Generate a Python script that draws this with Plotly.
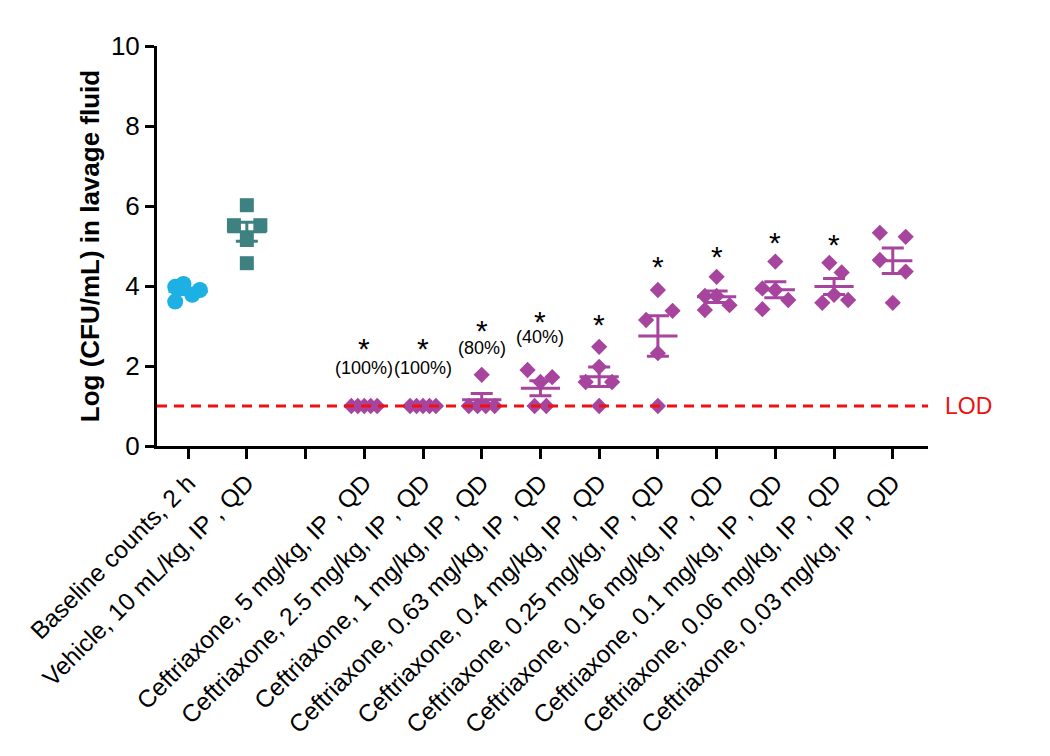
import numpy as np
import plotly.graph_objects as go

# ---- data ----
groups = [
    "Baseline counts, 2 h",
    "Vehicle, 10 mL/kg, IP , QD",
    "",
    "Ceftriaxone, 5 mg/kg, IP , QD",
    "Ceftriaxone, 2.5 mg/kg, IP , QD",
    "Ceftriaxone, 1 mg/kg, IP , QD",
    "Ceftriaxone, 0.63 mg/kg, IP , QD",
    "Ceftriaxone, 0.4 mg/kg, IP , QD",
    "Ceftriaxone, 0.25 mg/kg, IP , QD",
    "Ceftriaxone, 0.16 mg/kg, IP , QD",
    "Ceftriaxone, 0.1 mg/kg, IP , QD",
    "Ceftriaxone, 0.06 mg/kg, IP , QD",
    "Ceftriaxone, 0.03 mg/kg, IP , QD",
]

baseline = [3.98, 4.05, 3.78, 3.90, 3.61]
vehicle = [6.02, 5.52, 5.52, 5.15, 4.57]
ceftriaxone = {
    "5": [1.0, 1.0, 1.0, 1.0, 1.0],
    "2.5": [1.0, 1.0, 1.0, 1.0, 1.0],
    "1": [1.0, 1.0, 1.78, 1.0, 1.0],
    "0.63": [1.9, 1.72, 1.6, 1.0, 1.0],
    "0.4": [2.48, 1.98, 1.6, 1.6, 1.0],
    "0.25": [3.9, 3.38, 3.15, 2.32, 1.0],
    "0.16": [4.23, 3.75, 3.75, 3.52, 3.4],
    "0.1": [4.61, 3.94, 3.9, 3.65, 3.42],
    "0.06": [4.58, 4.34, 3.78, 3.65, 3.58],
    "0.03": [5.33, 5.23, 4.65, 4.36, 3.58],
}

LOD = 1.0
pct_text = ["(100%)", "(100%)", "(80%)", "(40%)"]

# label placement (not data)
star_y = [2.43, 2.43, 2.88, 3.11, 3.03, 4.5, 4.75, 5.08, 5.03]
pct_y = [1.95, 1.95, 2.46, 2.72]

# horizontal scatter of points inside each column
baseline_dx = [-0.22, -0.08, 0.07, 0.2, -0.22]
vehicle_dx = [0, -0.22, 0.23, 0, 0]
cef_dx = {
    "5": [-0.22, -0.11, 0, 0.11, 0.22],
    "2.5": [-0.22, -0.11, 0, 0.11, 0.22],
    "1": [-0.22, -0.07, 0, 0.07, 0.22],
    "0.63": [-0.22, 0.2, 0, -0.1, 0.1],
    "0.4": [0, 0, -0.23, 0.22, 0],
    "0.25": [0, 0.25, -0.2, 0, 0],
    "0.16": [0, -0.2, 0, 0.22, -0.2],
    "0.1": [0, -0.22, 0, 0.22, -0.22],
    "0.06": [-0.08, 0.13, 0, 0.24, -0.2],
    "0.03": [-0.22, 0.22, -0.22, 0.22, 0],
}

CYAN = "#1CB0E4"
TEAL = "#3E8181"
PURPLE = "#A6449E"
RED = "#EE1111"
FONT = "Arial, Liberation Sans, sans-serif"


def mean_sem(v):
    v = np.array(v)
    return v.mean(), v.std(ddof=1) / np.sqrt(len(v))


fig = go.Figure()


def add_group(pos, values, dx, color, symbol, size):
    m, s = mean_sem(values)
    # line-ew is drawn 1.4x its size -> ~39 px wide mean bar
    fig.add_trace(go.Scatter(
        x=[pos], y=[m], mode="markers",
        marker=dict(symbol="line-ew", size=28, line=dict(color=color, width=3)),
        error_y=dict(type="data", array=[s], width=11, thickness=3, color=color),
        showlegend=False, hoverinfo="y"))
    fig.add_trace(go.Scatter(
        x=[pos + d for d in dx], y=values, mode="markers",
        marker=dict(symbol=symbol, size=size, color=color),
        showlegend=False, hoverinfo="y"))


add_group(0, baseline, baseline_dx, CYAN, "circle", 16)
add_group(1, vehicle, vehicle_dx, TEAL, "square", 14)
for i, key in enumerate(ceftriaxone):
    add_group(3 + i, ceftriaxone[key], cef_dx[key], PURPLE, "diamond", 12.5)

# LOD line
fig.add_shape(type="line", xref="paper", yref="y", x0=0, x1=1, y0=LOD, y1=LOD,
              line=dict(color=RED, width=3, dash="10px,7px"))
fig.add_annotation(xref="paper", yref="y", x=1.02, y=LOD, text="LOD",
                   showarrow=False, xanchor="left", yanchor="middle",
                   font=dict(family=FONT, size=23, color=RED))

# significance marks
for i, y in enumerate(star_y):
    fig.add_annotation(x=3 + i, y=y, text="*", showarrow=False, yanchor="middle",
                       font=dict(family=FONT, size=30, color="black"))
for i, (t, y) in enumerate(zip(pct_text, pct_y)):
    fig.add_annotation(x=3 + i, y=y, text=t, showarrow=False, yanchor="middle",
                       font=dict(family=FONT, size=18, color="black"))

fig.update_layout(
    width=1050, height=756,
    margin=dict(l=149, r=130, t=38, b=318),
    paper_bgcolor="white", plot_bgcolor="white",
    font=dict(family=FONT, color="black"),
    xaxis=dict(
        range=[-0.53, 12.6], tickmode="array",
        tickvals=list(range(len(groups))), ticktext=groups,
        tickangle=-45, tickfont=dict(size=24.5),
        showline=True, linecolor="black", linewidth=3,
        ticks="outside", ticklen=10, tickwidth=3, tickcolor="black",
        showgrid=False, zeroline=False),
    yaxis=dict(
        range=[0, 10], tickvals=[0, 2, 4, 6, 8, 10],
        tickfont=dict(size=26),
        title=dict(text="<b>Log (CFU/mL) in lavage fluid</b>",
                   font=dict(size=26), standoff=4),
        showline=True, linecolor="black", linewidth=3,
        ticks="outside", ticklen=9, tickwidth=3, tickcolor="black",
        showgrid=False, zeroline=False),
)

fig.write_html("out.html")
